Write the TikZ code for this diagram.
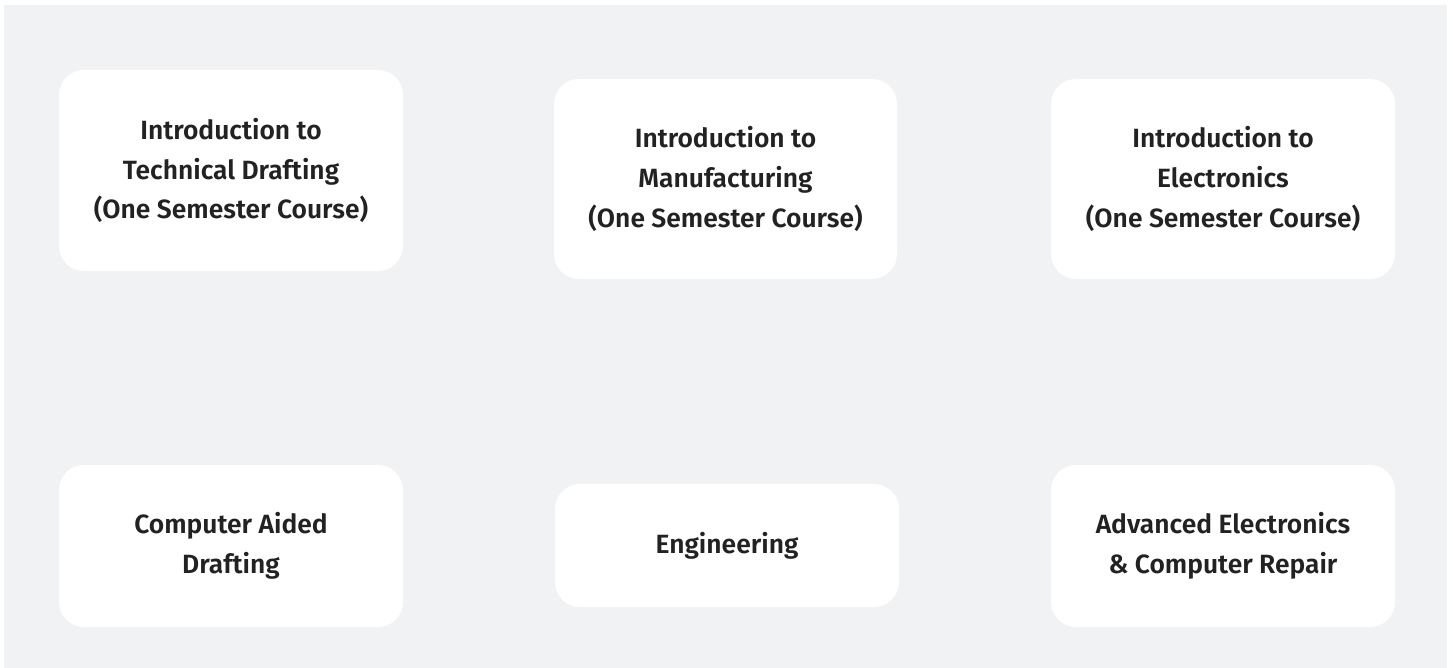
\documentclass[tikz,border=0pt]{standalone}
\usepackage{fontspec}
\setmainfont{Fira Sans}[BoldFont={Fira Sans SemiBold}]
\definecolor{bggray}{HTML}{F1F2F4}
\definecolor{txt}{HTML}{222222}
\begin{document}
\begin{tikzpicture}[x=1bp,y=-1bp,
  card/.style={fill=white, draw=none, rounded corners=25bp, inner sep=0pt,
    align=center, text=txt, font=\fontsize{26.5}{40}\selectfont\bfseries},
]
\useasboundingbox (0,0) rectangle (1453,668);
\fill[white] (0,0) rectangle (1453,668);
\fill[bggray] (4,5) rectangle (1447,668);
\node[card, minimum width=344bp, minimum height=201bp] (a) at (231,170.5) {Introduction to\\Technical Drafting\\(One Semester Course)};
\node[card, minimum width=343bp, minimum height=200bp] (b) at (725.5,179) {Introduction to\\Manufacturing\\(One Semester Course)};
\node[card, minimum width=344bp, minimum height=200bp] (c) at (1223,179) {Introduction to\\Electronics\\(One Semester Course)};
\node[card, minimum width=344bp, minimum height=162bp] (d) at (231,546) {Computer Aided\\Drafting};
\node[card, minimum width=344bp, minimum height=123bp] (e) at (727,545.5) {Engineering};
\node[card, minimum width=344bp, minimum height=162bp] (f) at (1223,546) {Advanced Electronics\\\& Computer Repair};
\end{tikzpicture}
\end{document}
